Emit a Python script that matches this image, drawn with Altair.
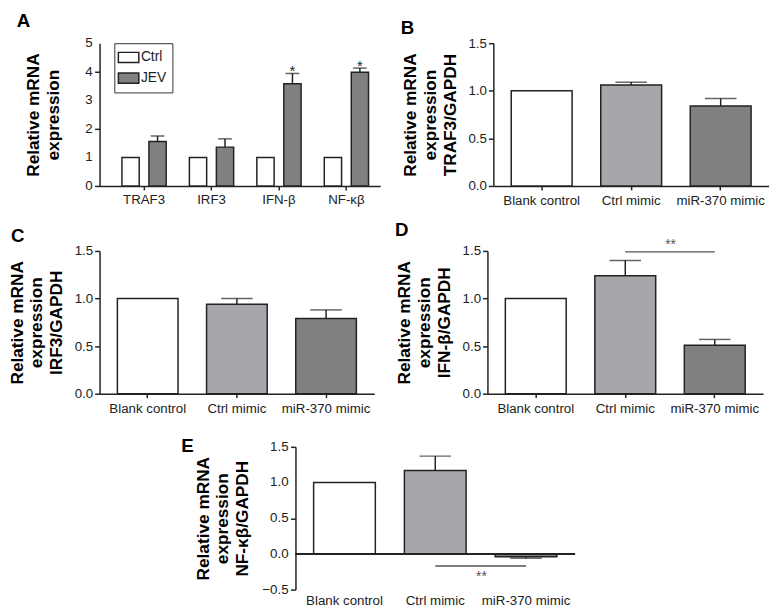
import altair as alt
import pandas as pd

FONT = "Liberation Sans"
INK = "#222222"

# ---- Panel A data ----
genes_a = ["TRAF3", "IRF3", "IFN-β", "NF-κβ"]
ctrl_a = [1.0, 1.0, 1.0, 1.0]
jev_a = [1.56, 1.36, 3.58, 3.98]
jev_err_a = [1.75, 1.65, 3.94, 4.13]
jev_sig_a = ["", "", "*", "*"]
series_a = ["Ctrl", "JEV"]
colors_a = ["white", "#808080"]
ticks_a = [0, 1, 2, 3, 4, 5]
tick_labels_a = ["0", "1", "2", "3", "4", "5"]

# ---- Panels B-E data ----
groups = ["Blank control", "Ctrl mimic", "miR-370 mimic"]
colors_g = ["white", "#a7a7ab", "#808080"]
traf3 = [1.0, 1.06, 0.84]
traf3_err = [1.0, 1.09, 0.92]
irf3 = [1.0, 0.94, 0.79]
irf3_err = [1.0, 1.00, 0.88]
ifnb = [1.0, 1.24, 0.51]
ifnb_err = [1.0, 1.40, 0.57]
nfkb = [1.0, 1.17, -0.04]
nfkb_err = [1.0, 1.37, -0.06]
ticks15 = [0.0, 0.5, 1.0, 1.5]
ticks_e = [-0.5, 0.0, 0.5, 1.0, 1.5]
tick_labels_e = ["−0.5", "0.0", "0.5", "1.0", "1.5"]

H = 145
TICK_FS = 13.5
TITLE_FS = 17.5


def ptitle(letter, dx, dy=0):
    return alt.TitleParams(text=letter, anchor="start", frame="group", dx=dx, dy=dy,
                           fontSize=19, fontWeight="bold", font=FONT, color="black",
                           offset=6, baseline="bottom")


def indep(c):
    return c.resolve_scale(color="independent", x="independent", y="independent",
                           xOffset="independent").resolve_legend(color="independent")


def ylabels(values, labels):
    d = pd.DataFrame({"value": values, "lab": labels})
    return alt.Chart(d).mark_text(align="right", baseline="middle", fontSize=TICK_FS,
                                  font=FONT, color=INK).encode(
        x=alt.value(-7), y="value:Q", text="lab:N")


# ---------------- Panel A ----------------
rows = []
for g, c, j, e, s in zip(genes_a, ctrl_a, jev_a, jev_err_a, jev_sig_a):
    rows.append({"gene": g, "grp": "Ctrl", "value": c, "err": c, "sig": ""})
    rows.append({"gene": g, "grp": "JEV", "value": j, "err": e, "sig": s})
dfA = pd.DataFrame(rows)

xA = alt.X("gene:N", sort=genes_a, title=None,
           scale=alt.Scale(paddingInner=0, paddingOuter=0.08, align=1),
           axis=alt.Axis(labelAngle=0, tickSize=4, labelPadding=3))
xoA = alt.XOffset("grp:N", sort=series_a, scale=alt.Scale(paddingInner=0.36, paddingOuter=0.43))
yA = alt.Y("value:Q", scale=alt.Scale(domain=[0, 5], nice=False),
           axis=alt.Axis(values=ticks_a, labels=False, tickSize=5,
                         title=["Relative mRNA", "expression"], titlePadding=32, titleLineHeight=20))

barsA = alt.Chart(dfA).mark_bar(stroke=INK, strokeWidth=1.5).encode(
    x=xA, xOffset=xoA, y=yA,
    color=alt.Color("grp:N", sort=series_a,
                    scale=alt.Scale(domain=series_a, range=colors_a),
                    legend=alt.Legend(title=None, orient="none", legendX=15, legendY=0,
                                      strokeColor="#333", padding=6, rowPadding=4,
                                      symbolType="M-1.4,-0.7H1.4V0.7H-1.4Z", symbolSize=220,
                                      symbolStrokeColor=INK, symbolStrokeWidth=1.5,
                                      labelFontSize=14, labelFont=FONT, labelColor=INK)),
)
errA_base = alt.Chart(dfA).transform_filter("datum.err != datum.value")
errA = errA_base.mark_rule(color=INK, strokeWidth=1.5).encode(
    x=xA, xOffset=xoA, y="value:Q", y2="err:Q")
capA = errA_base.mark_tick(color=INK, thickness=1.5, size=14, orient="horizontal").encode(
    x=xA, xOffset=xoA, y="err:Q")
starA = errA_base.mark_text(fontSize=15, font=FONT, color=INK, baseline="bottom", dy=6).encode(
    x=xA, xOffset=xoA, y="err:Q", text="sig:N")

panelA = alt.layer(barsA, errA, capA, starA, ylabels(ticks_a, tick_labels_a)).properties(
    width=285, height=H, title=ptitle("A", -84, 20))


# ---------------- Panels B-E ----------------
def panel(letter, gene_title, vals, errs, width, dx, ydomain, yticks,
          sig=None, zero_line=False, title_dy=27, title_pad=9, custom_labels=None):
    df = pd.DataFrame({"cond": groups, "value": vals, "err": errs})
    x = alt.X("cond:N", sort=groups, title=None,
              scale=alt.Scale(paddingInner=0.32, paddingOuter=0.2),
              axis=alt.Axis(labelAngle=0, tickSize=0 if zero_line else 4, labelPadding=4,
                            domain=not zero_line, ticks=not zero_line))
    if custom_labels is None:
        yaxis = alt.Axis(values=yticks, format=".1f", tickSize=5, labelPadding=2,
                         title=["Relative mRNA", "expression", gene_title],
                         titlePadding=title_pad, titleLineHeight=20)
    else:
        yaxis = alt.Axis(values=yticks, labels=False, tickSize=5,
                         title=["Relative mRNA", "expression", gene_title],
                         titlePadding=title_pad + 30, titleLineHeight=20)
    y = alt.Y("value:Q", scale=alt.Scale(domain=ydomain, nice=False), axis=yaxis)
    bars = alt.Chart(df).mark_bar(stroke=INK, strokeWidth=1.5).encode(
        x=x, y=y,
        color=alt.Color("cond:N", sort=groups,
                        scale=alt.Scale(domain=groups, range=colors_g), legend=None))
    eb = alt.Chart(df).transform_filter("datum.err != datum.value")
    err = eb.mark_rule(color=INK, strokeWidth=1.5).encode(x=x, y="value:Q", y2="err:Q")
    cap = eb.mark_tick(color=INK, thickness=1.5, size=32, orient="horizontal").encode(x=x, y="err:Q")
    layers = [bars, err, cap]
    if zero_line:
        layers.append(alt.Chart(df).mark_rule(color=INK, strokeWidth=1.5).encode(y=alt.datum(0)))
    if sig is not None:
        sdf = pd.DataFrame({"a": [sig[0]], "b": [sig[1]], "ly": [sig[2]], "ty": [sig[3]],
                            "txt": ["**"]})
        line = alt.Chart(sdf).mark_rule(color="#555555", strokeWidth=1.5).encode(
            x=alt.X("a:N", sort=groups), x2="b:N", y="ly:Q")
        txt = alt.Chart(sdf).mark_text(fontSize=14, font=FONT, color="#555555",
                                       baseline="middle", dx=-14).encode(
            x=alt.X("b:N", sort=groups, bandPosition=0), y="ty:Q", text="txt:N")
        layers += [line, txt]
    if custom_labels is not None:
        layers.append(ylabels(yticks, custom_labels))
    return alt.layer(*layers).properties(
        width=width, height=H, title=ptitle(letter, dx, title_dy))


panelB = panel("B", "TRAF3/GAPDH", traf3, traf3_err, 280, -94, [0, 1.5], ticks15)
panelC = panel("C", "IRF3/GAPDH", irf3, irf3_err, 279, -90, [0, 1.5], ticks15)
panelD = panel("D", "IFN-β/GAPDH", ifnb, ifnb_err, 280, -94, [0, 1.5], ticks15,
               sig=("Ctrl mimic", "miR-370 mimic", 1.49, 1.56))
panelE = panel("E", "NF-κβ/GAPDH", nfkb, nfkb_err, 284, -116, [-0.5, 1.5], ticks_e,
               sig=("Ctrl mimic", "miR-370 mimic", -0.17, -0.33),
               zero_line=True, title_dy=41, custom_labels=tick_labels_e)

spacer = alt.Chart(pd.DataFrame({"s": [0]})).mark_point(opacity=0).properties(width=83, height=1)

row1 = indep(alt.hconcat(panelA, panelB, spacing=21))
row2 = indep(alt.hconcat(panelC, panelD, spacing=21))
row3 = indep(alt.hconcat(spacer, panelE, spacing=0))

top = indep(alt.vconcat(row1, row2, spacing=14, center=False))
chart = indep(alt.vconcat(top, row3, spacing=22, center=False)).configure(
    background="white", font=FONT, padding=0
).configure_view(
    stroke=None
).configure_axis(
    grid=False, domainColor=INK, domainWidth=1.5, tickColor=INK, tickWidth=1.5,
    labelFont=FONT, labelFontSize=TICK_FS, labelColor=INK,
    titleFont=FONT, titleFontSize=TITLE_FS, titleFontWeight="bold", titleColor="black"
)

chart.save("out.html", embed_options={"renderer": "svg", "actions": False})
